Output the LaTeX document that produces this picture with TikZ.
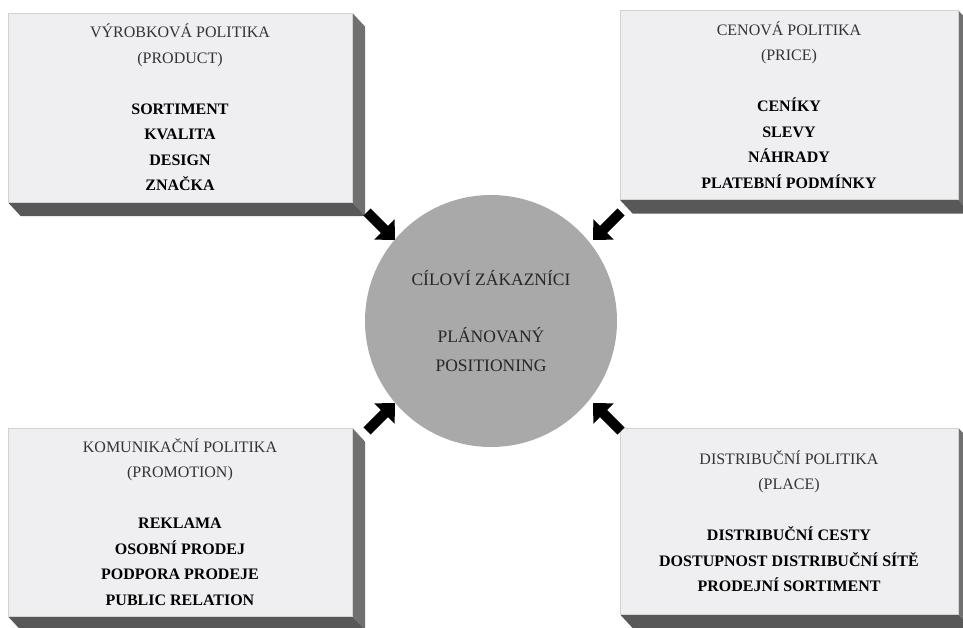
\documentclass[tikz,border=0pt]{standalone}
\usepackage{fontspec}
\setmainfont{Liberation Serif}
\usepackage{tikz}
\usepackage{xcolor}
\usetikzlibrary{arrows.meta,calc,backgrounds}

\definecolor{facegray}{HTML}{EFEFF1}
\definecolor{sidegray}{HTML}{707070}
\definecolor{basegray}{HTML}{585858}
\definecolor{custgray}{HTML}{A9A9A9}
\definecolor{headtext}{HTML}{333333}
\newcommand{\polline}[1]{\textbf{\color{black}#1}}

\begin{document}
\begin{tikzpicture}[x=1pt, y=-1pt,
  polbox/.style={rectangle, fill=facegray, draw=gray!35, line width=0.4pt, inner sep=0pt,
    align=center, text=headtext, font={\fontsize{16}{25.5}\selectfont}},
  custcircle/.style={circle, fill=custgray, inner sep=0pt, minimum size=252pt,
    align=center, text=black!85, font={\fontsize{17.5}{28.5}\selectfont}},
  bigarrow/.style={line width=10pt, black, -{Triangle[width=28pt,length=15pt]}}]
\useasboundingbox (0,0) rectangle (963,628);

% the four policies
\node[polbox, minimum width=344pt, minimum height=189pt] (prod) at (180,107.5)
  {VÝROBKOVÁ POLITIKA\\(PRODUCT)\\[25.5pt]
   \polline{SORTIMENT}\\\polline{KVALITA}\\\polline{DESIGN}\\\polline{ZNAČKA}};
\node[polbox, minimum width=338pt, minimum height=189pt] (price) at (789,105)
  {CENOVÁ POLITIKA\\(PRICE)\\[25.5pt]
   \polline{CENÍKY}\\\polline{SLEVY}\\\polline{NÁHRADY}\\\polline{PLATEBNÍ PODMÍNKY}};
\node[polbox, minimum width=344pt, minimum height=188pt] (promo) at (180,522)
  {KOMUNIKAČNÍ POLITIKA\\(PROMOTION)\\[25.5pt]
   \polline{REKLAMA}\\\polline{OSOBNÍ PRODEJ}\\\polline{PODPORA PRODEJE}\\\polline{PUBLIC RELATION}};
\node[polbox, minimum width=338pt, minimum height=186pt] (place) at (789,521)
  {DISTRIBUČNÍ POLITIKA\\(PLACE)\\[25.5pt]
   \polline{DISTRIBUČNÍ CESTY}\\\polline{DOSTUPNOST DISTRIBUČNÍ SÍTĚ}\\\polline{PRODEJNÍ SORTIMENT}};

% 3D edges of the boxes
\begin{scope}[on background layer]
\foreach \b in {prod,price,promo,place}{
  \fill[sidegray] (\b.north east) -- ++(13,14) -- ($(\b.south east)+(13,14)$) -- (\b.south east) -- cycle;
  \fill[basegray] (\b.south west) -- (\b.south east) -- ++(13,14) -- ($(\b.south west)+(13,14)$) -- cycle;
}
\end{scope}

% target customers
\node[custcircle] (cust) at (491,321)
  {CÍLOVÍ ZÁKAZNÍCI\\[28.5pt]PLÁNOVANÝ\\POSITIONING};

% arrows into the circle
\coordinate (prodout) at (367,212);
\coordinate (prodin) at (395,240);
\coordinate (priceout) at (621,212);
\coordinate (pricein) at (593,240);
\coordinate (promoout) at (367,431);
\coordinate (promoin) at (395,403);
\coordinate (placeout) at (621,431);
\coordinate (placein) at (593,403);
\draw[bigarrow] (prodout) -- (prodin);
\draw[bigarrow] (priceout) -- (pricein);
\draw[bigarrow] (promoout) -- (promoin);
\draw[bigarrow] (placeout) -- (placein);
\end{tikzpicture}
\end{document}
